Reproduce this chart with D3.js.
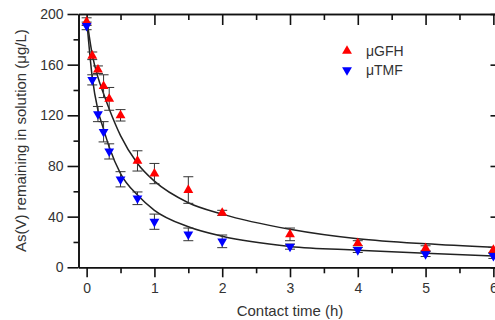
<!DOCTYPE html>
<html>
<head>
<meta charset="utf-8">
<script src="https://cdn.jsdelivr.net/npm/d3@7"></script>
<style>
  body { margin: 0; background: #fff; }
  text { font-family: "Liberation Sans", Arial, sans-serif; fill: #333; }
</style>
</head>
<body>
<svg width="495" height="320"></svg>
<script>
// contact time (h)
var times = [0, 0.083, 0.167, 0.25, 0.333, 0.5, 0.75, 1, 1.5, 2, 3, 4, 5, 6];

// As(V) remaining (ug/L)
var gfh    = [194, 167, 156, 143, 133, 120, 84, 74, 61, 43, 26, 19, 15, 13.7];
var gfhErr = [3, 3, 3, 9, 9, 4.5, 8, 8, 10.5, 2, 5, 2, 2, 2];
var tmf    = [190.6, 148, 121, 107, 91.5, 69.5, 54.5, 36, 26, 20.5, 16.3, 13.7, 10.5, 9];
var tmfErr = [3, 4, 6, 8, 6, 6, 5, 6, 5, 5, 2, 2, 2, 2];

// fitted curves
var fitTimes = [0, 0.083, 0.167, 0.25, 0.333, 0.5, 0.75, 1, 1.5, 2, 3, 4, 5, 6];
var gfhFit   = [197, 168, 150, 137, 125, 104, 82, 68, 51, 42, 30, 22.5, 18.5, 15.8];
var tmfFit   = [196, 150, 124, 109, 95, 74, 57, 45, 32, 24.5, 16.5, 13.5, 11, 9];

var xTicks = [0, 1, 2, 3, 4, 5, 6];
var yTicks = [0, 40, 80, 120, 160, 200];
var legendNames = ["\u03bcGFH", "\u03bcTMF"];

var svg = d3.select("svg");

var x = d3.scaleLinear().domain([-0.12, 6.12]).range([78.5, 501.5]);
var y = d3.scaleLinear().domain([0, 200]).range([267.3, 14]);

var xMinor = d3.range(-0, 6.01, 0.5).filter(function (d) { return d % 1 !== 0; });
var yMinor = d3.range(20, 200, 40);

// axes
function styleAxis(g) {
    g.select(".domain").attr("stroke", "#111").attr("stroke-width", 1.6);
    g.selectAll(".tick line").attr("stroke", "#111").attr("stroke-width", 1.6);
    g.selectAll("text").attr("fill", "#333")
        .style("font-family", "Liberation Sans, Arial, sans-serif")
        .style("font-size", "14px");
}

// bottom
svg.append("g").attr("transform", "translate(0," + y(0) + ")")
    .call(d3.axisBottom(x).tickValues(xMinor).tickSize(6).tickFormat("").tickSizeOuter(0))
    .call(styleAxis);
svg.append("g").attr("transform", "translate(0," + y(0) + ")")
    .call(d3.axisBottom(x).tickValues(xTicks).tickSize(10).tickPadding(6).tickFormat(d3.format("d")).tickSizeOuter(0))
    .call(styleAxis);

// top (ticks inward)
svg.append("g").attr("transform", "translate(0," + y(200) + ")")
    .call(d3.axisTop(x).tickValues(xMinor).tickSize(-6).tickFormat("").tickSizeOuter(0))
    .call(styleAxis);
svg.append("g").attr("transform", "translate(0," + y(200) + ")")
    .call(d3.axisTop(x).tickValues(xTicks).tickSize(-11).tickFormat("").tickSizeOuter(0))
    .call(styleAxis);

// left
svg.append("g").attr("transform", "translate(" + x(-0.12) + ",0)")
    .call(d3.axisLeft(y).tickValues(yMinor).tickSize(5).tickFormat("").tickSizeOuter(0))
    .call(styleAxis);
svg.append("g").attr("transform", "translate(" + x(-0.12) + ",0)")
    .call(d3.axisLeft(y).tickValues(yTicks).tickSize(11).tickPadding(4).tickSizeOuter(0))
    .call(styleAxis);

// right (ticks inward, line is just off the page)
svg.append("g").attr("transform", "translate(" + x(6.12) + ",0)")
    .call(d3.axisRight(y).tickValues(yMinor).tickSize(-6).tickFormat("").tickSizeOuter(0))
    .call(styleAxis);
svg.append("g").attr("transform", "translate(" + x(6.12) + ",0)")
    .call(d3.axisRight(y).tickValues(yTicks).tickSize(-11).tickFormat("").tickSizeOuter(0))
    .call(styleAxis);

// axis titles
svg.append("text")
    .attr("x", x(3.0))
    .attr("y", 316)
    .attr("text-anchor", "middle")
    .style("font-size", "15px")
    .text("Contact time (h)");

svg.append("text")
    .attr("transform", "translate(26," + y(100) + ") rotate(-90)")
    .attr("text-anchor", "middle")
    .style("font-size", "15px")
    .text("As(V) remaining in solution (\u03bcg/L)");

// fitted curves
var line = d3.line().curve(d3.curveMonotoneX)
    .x(function (d) { return x(d[0]); })
    .y(function (d) { return y(d[1]); });

[gfhFit, tmfFit].forEach(function (fit) {
    svg.append("path")
        .datum(fitTimes.map(function (t, i) { return [t, fit[i]]; }))
        .attr("d", line)
        .attr("fill", "none")
        .attr("stroke", "#222")
        .attr("stroke-width", 1.5);
});

// error bars + markers
var series = [
    { vals: gfh, err: gfhErr, color: "#ff0000", rot: 0 },
    { vals: tmf, err: tmfErr, color: "#0000ff", rot: 180 }
];
var tri = d3.symbol().type(d3.symbolTriangle).size(42);
var cap = 5;

series.forEach(function (s) {
    var g = svg.append("g");
    times.forEach(function (t, i) {
        var cx = x(t), top = y(s.vals[i] + s.err[i]), bot = y(s.vals[i] - s.err[i]);
        g.append("line").attr("x1", cx).attr("x2", cx).attr("y1", top).attr("y2", bot)
            .attr("stroke", "#333").attr("stroke-width", 1);
        g.append("line").attr("x1", cx - cap).attr("x2", cx + cap).attr("y1", top).attr("y2", top)
            .attr("stroke", "#333").attr("stroke-width", 1);
        g.append("line").attr("x1", cx - cap).attr("x2", cx + cap).attr("y1", bot).attr("y2", bot)
            .attr("stroke", "#333").attr("stroke-width", 1);
    });
});

series.forEach(function (s) {
    svg.append("g").selectAll("path")
        .data(times)
        .enter()
        .append("path")
        .attr("d", tri)
        .attr("fill", s.color)
        .attr("transform", function (t, i) {
            return "translate(" + x(t) + "," + y(s.vals[i]) + ") rotate(" + s.rot + ")";
        });
});

// legend
var legend = svg.append("g");
series.forEach(function (s, i) {
    legend.append("path")
        .attr("d", tri)
        .attr("fill", s.color)
        .attr("transform", "translate(347," + (51 + i * 19) + ") rotate(" + s.rot + ")");
    legend.append("text")
        .attr("x", 366)
        .attr("y", 56 + i * 19)
        .style("font-size", "14px")
        .text(legendNames[i]);
});
</script>
</body>
</html>
